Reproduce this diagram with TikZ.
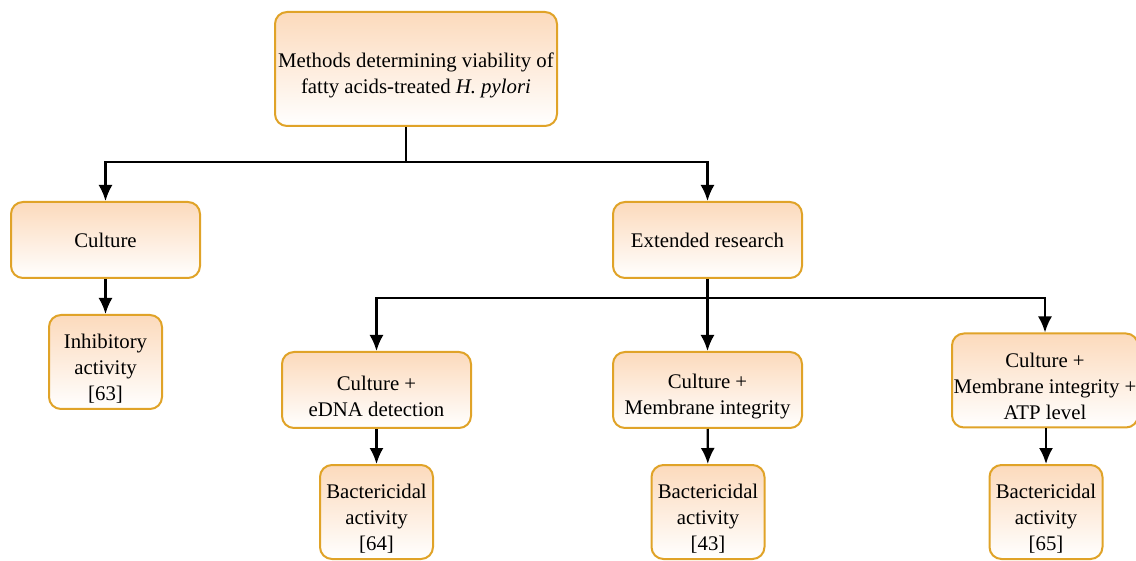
\documentclass[tikz,border=0pt]{standalone}
\usepackage{fontspec}
\setmainfont{Liberation Serif}
\usetikzlibrary{arrows.meta}

\definecolor{boxline}{RGB}{224,163,40}
\definecolor{boxfill}{RGB}{252,218,188}

\newcommand{\topstrut}{\rule{0pt}{27pt}}

\tikzset{
    box/.style={draw=boxline, line width=2pt, rounded corners=12pt,
        top color=boxfill, bottom color=white, align=center,
        inner sep=1pt, font=\fontsize{20.8}{26}\selectfont},
    arr/.style={-{Latex[length=16pt,width=14pt]}, line width=2.2pt}
}

\begin{document}
\begin{tikzpicture}[x=1pt, y=-1pt]
    \useasboundingbox (0,0) rectangle (1136,561);

    % Top level
    \node[box, minimum width=282pt, minimum height=114pt] (methods) at (416,69)
        {\topstrut Methods determining viability of\\fatty acids-treated \textit{H. pylori}};

    % Second level
    \node[box, minimum width=189pt, minimum height=76pt] (culture) at (105.5,240) {Culture};
    \node[box, minimum width=189pt, minimum height=76pt] (extended) at (707.5,240) {Extended research};

    % Culture branch
    \node[box, minimum width=113pt, minimum height=94pt] (inhib) at (105.5,362)
        {\topstrut Inhibitory\\activity\\{[63]}};

    % Extended research branch
    \node[box, minimum width=189pt, minimum height=76pt] (edna) at (376.5,390)
        {\topstrut Culture +\\eDNA detection};
    \node[box, minimum width=189pt, minimum height=76pt] (membr) at (707.5,390)
        {\topstrut Culture +\\Membrane integrity};
    \node[box, minimum width=186pt, minimum height=94pt] (atp) at (1045,380.5)
        {\topstrut Culture +\\Membrane integrity +\\ATP level};

    % Outcomes
    \node[box, minimum width=113pt, minimum height=94pt] (bact1) at (376.5,512)
        {\topstrut Bactericidal\\activity\\{[64]}};
    \node[box, minimum width=113pt, minimum height=94pt] (bact2) at (708,512)
        {\topstrut Bactericidal\\activity\\{[43]}};
    \node[box, minimum width=113pt, minimum height=94pt] (bact3) at (1046,512)
        {\topstrut Bactericidal\\activity\\{[65]}};

    % Connectors
    \coordinate (split1) at (406,162);
    \draw[arr] (methods.south -| split1) -- (split1) -| (culture.north);
    \draw[arr] (split1) -| (extended.north);
    \draw[arr] (culture) -- (inhib);

    \draw[line width=2.2pt] (extended.south) -- ++(0,19) coordinate (split2);
    \draw[arr] (split2) -| (edna.north);
    \draw[arr] (split2) -- (membr.north);
    \draw[arr] (split2) -| (atp.north);

    \draw[arr] (edna) -- (bact1);
    \draw[arr] (membr) -- (bact2);
    \draw[arr] (atp.south -| bact3) -- (bact3);
\end{tikzpicture}
\end{document}
